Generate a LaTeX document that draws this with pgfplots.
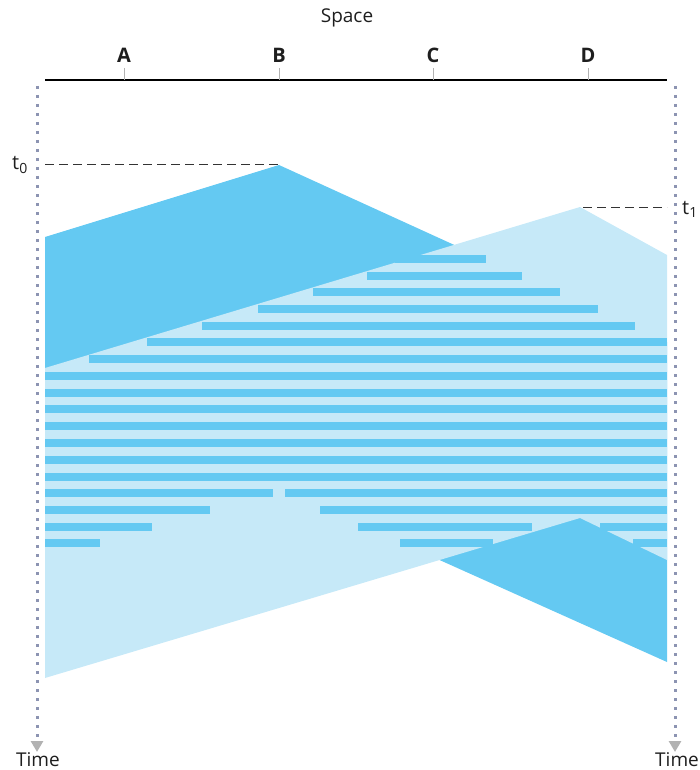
\documentclass[border=0pt]{standalone}
\usepackage{pgfplots}
\pgfplotsset{compat=1.18}
\usepackage{fontspec}
\setmainfont{Open Sans}
\usetikzlibrary{arrows.meta}
\definecolor{darkb}{RGB}{100,201,242}
\definecolor{lightb}{RGB}{198,233,248}
\definecolor{dotc}{RGB}{140,148,178}
\definecolor{txt}{RGB}{30,30,30}
\begin{document}
\begin{tikzpicture}
\useasboundingbox (0,0) rectangle (699pt,770pt);
\begin{axis}[
  at={(0,0)}, anchor=south west,
  scale only axis, width=699pt, height=770pt,
  xmin=0, xmax=699, ymin=0, ymax=770, y dir=reverse,
  hide axis, clip=false,
]
% transmission from B (darker)
\addplot[fill=darkb, draw=none] coordinates {(45,237) (279,165) (667,342) (667,662) (279,488) (45,560)} -- cycle;
% transmission from D (lighter)
\addplot[fill=lightb, draw=none] coordinates {(45,368) (580,207) (667,255) (667,560) (580,518) (45,678)} -- cycle;
% collision stripes
\addplot[draw=darkb, line width=8pt, line cap=butt, unbounded coords=jump] coordinates {
 (395,259) (486,259) (nan,nan)
 (367,276) (522,276) (nan,nan)
 (313,292) (560,292) (nan,nan)
 (258,309) (598,309) (nan,nan)
 (202,326) (635,326) (nan,nan)
 (147,342) (667,342) (nan,nan)
 (89,359) (667,359) (nan,nan)
 (45,376) (667,376) (nan,nan)
 (45,393) (667,393) (nan,nan)
 (45,409) (667,409) (nan,nan)
 (45,426) (667,426) (nan,nan)
 (45,443) (667,443) (nan,nan)
 (45,460) (667,460) (nan,nan)
 (45,477) (667,477) (nan,nan)
 (45,493) (273,493) (nan,nan) (285,493) (667,493) (nan,nan)
 (45,510) (210,510) (nan,nan) (320,510) (667,510) (nan,nan)
 (45,527) (152,527) (nan,nan) (358,527) (532,527) (nan,nan) (600,527) (667,527) (nan,nan)
 (45,543) (100,543) (nan,nan) (400,543) (493,543) (nan,nan) (633,543) (667,543)
};
% space axis
\addplot[black, line width=1.2pt] coordinates {(45,80) (667,80)};
\addplot[gray!60, line width=1pt, unbounded coords=jump] coordinates {(124,68) (124,80) (nan,nan) (279,68) (279,80) (nan,nan) (433,68) (433,80) (nan,nan) (588,68) (588,80)};
% time axes
\addplot[dotc, line width=3pt, dash pattern=on 3pt off 6pt, -{Triangle[width=12pt,length=11pt,color=gray!60,fill=gray!60]}] coordinates {(37,86) (37,752)};
\addplot[dotc, line width=3pt, dash pattern=on 3pt off 6pt, -{Triangle[width=12pt,length=11pt,color=gray!60,fill=gray!60]}] coordinates {(675,86) (675,752)};
% t0, t1 dashed
\addplot[black!80, line width=1pt, dash pattern=on 9pt off 5pt] coordinates {(45,165) (279,165)};
\addplot[black!80, line width=1pt, dash pattern=on 9pt off 5pt] coordinates {(583,207) (667,207)};
% labels
\node[txt, font=\fontsize{19}{22}\selectfont] at (axis cs:347,18) {Space};
\node[txt, font=\fontsize{20}{22}\selectfont\bfseries] at (axis cs:124,55) {A};
\node[txt, font=\fontsize{20}{22}\selectfont\bfseries] at (axis cs:279,55) {B};
\node[txt, font=\fontsize{20}{22}\selectfont\bfseries] at (axis cs:433,55) {C};
\node[txt, font=\fontsize{20}{22}\selectfont\bfseries] at (axis cs:588,55) {D};
\node[txt, font=\fontsize{20}{22}\selectfont] at (axis cs:20,165) {t\textsubscript{0}};
\node[txt, font=\fontsize{20}{22}\selectfont, anchor=west, inner sep=0pt] at (axis cs:682,209) {t\textsubscript{1}};
\node[txt, font=\fontsize{19}{22}\selectfont] at (axis cs:38,760) {Time};
\node[txt, font=\fontsize{19}{22}\selectfont, anchor=west, inner sep=0pt] at (axis cs:655,760) {Time};
\end{axis}
\end{tikzpicture}
\end{document}
